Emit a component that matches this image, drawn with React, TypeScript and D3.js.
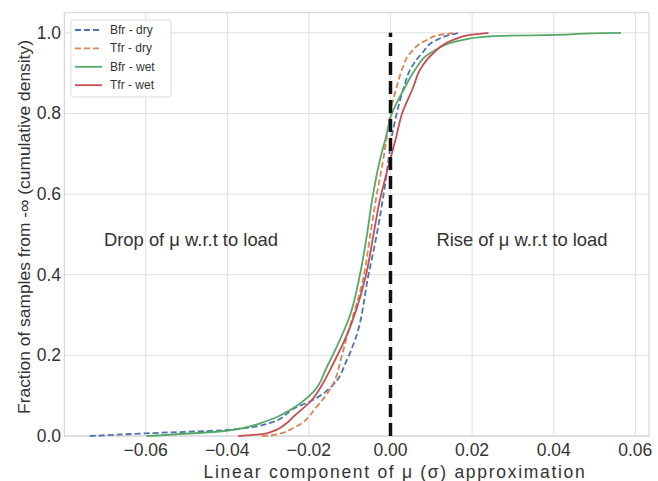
import React from "react";
import * as d3 from "d3";

const xTicks = [-0.06, -0.04, -0.02, 0.0, 0.02, 0.04, 0.06];
const yTicks = [0.0, 0.2, 0.4, 0.6, 0.8, 1.0];

const bfrDry: [number, number][] = [
  [-0.0737, 0], [-0.0598, 0.0067], [-0.0402, 0.0149], [-0.0295, 0.0323], [-0.0234, 0.0695],
  [-0.019, 0.0893], [-0.0141, 0.1265], [-0.0107, 0.1885], [-0.0087, 0.2382], [-0.0054, 0.3994],
  [-0.0033, 0.5036], [-0.0019, 0.5855], [-0.0005, 0.6847], [0.0003, 0.7418], [0.0015, 0.7988],
  [0.0033, 0.8658], [0.0048, 0.908], [0.0077, 0.9494], [0.0113, 0.9824], [0.0146, 0.9948], [0.017, 1.0],
];
const tfrDry: [number, number][] = [
  [-0.0315, 0], [-0.0287, 0.0025], [-0.0238, 0.0198], [-0.0181, 0.0727], [-0.014, 0.1307],
  [-0.012, 0.1967], [-0.0109, 0.2382], [-0.0065, 0.3994], [-0.0049, 0.5036], [-0.0036, 0.5855],
  [-0.0018, 0.6847], [-0.0009, 0.7418], [-0.0001, 0.7988], [0.0015, 0.8658], [0.0028, 0.908],
  [0.0048, 0.9494], [0.0089, 0.9824], [0.0121, 0.9948], [0.0162, 1.0],
];
const bfrWet: [number, number][] = [
  [-0.0598, 0], [-0.0402, 0.013], [-0.0303, 0.0372], [-0.0238, 0.0695], [-0.0189, 0.1092],
  [-0.0156, 0.1712], [-0.0124, 0.2382], [-0.0099, 0.3002], [-0.0075, 0.3994], [-0.0057, 0.5036],
  [-0.0045, 0.5855], [-0.0026, 0.6847], [-0.0011, 0.7418], [0.0003, 0.7988], [0.0036, 0.8658],
  [0.006, 0.908], [0.0097, 0.9494], [0.0178, 0.9824], [0.0236, 0.9906], [0.0293, 0.9931],
  [0.0407, 0.9948], [0.0489, 0.9985], [0.0565, 1.0],
];
const tfrWet: [number, number][] = [
  [-0.0373, 0], [-0.0303, 0.0067], [-0.0254, 0.0323], [-0.0238, 0.0479], [-0.0195, 0.0868],
  [-0.0165, 0.1315], [-0.014, 0.1804], [-0.0112, 0.2382], [-0.006, 0.3994], [-0.0041, 0.5036],
  [-0.0026, 0.5855], [-0.0001, 0.6847], [0.0014, 0.7418], [0.0028, 0.7988], [0.0056, 0.8658],
  [0.0072, 0.908], [0.0105, 0.9494], [0.0154, 0.9824], [0.0195, 0.9948], [0.024, 1.0],
];

const seriesNames = ["Bfr - dry", "Tfr - dry", "Bfr - wet", "Tfr - wet"];
const seriesData = [bfrDry, tfrDry, bfrWet, tfrWet];
const seriesColors = ["#4C72B0", "#DD8452", "#55A868", "#C44E52"];
const seriesDashed = [true, true, false, false];

const W = 658, H = 481;
const L = 64.3, R = 649, T = 12.7, B = 436;
const FONT = "'Liberation Sans', Arial, sans-serif";

const fmtX = (t: number) => (t < 0 ? "\u2212" : "") + Math.abs(t).toFixed(2);

export default function App() {
  const x = d3.scaleLinear().domain([-0.07995, 0.06336]).range([L, R]);
  const y = d3.scaleLinear().domain([0, 1.05]).range([B, T]);
  const line = d3.line<[number, number]>().x(d => x(d[0])).y(d => y(d[1])).curve(d3.curveMonotoneY);

  return (
    <svg width={W} height={H} style={{ position: "absolute", left: 0, top: 0, background: "#fff" }} fontFamily={FONT}>
      <rect x={0} y={0} width={W} height={H} fill="#fff" />
      {xTicks.map(t => (
        <line key={"gx" + t} x1={x(t)} x2={x(t)} y1={T} y2={B} stroke="#dedede" strokeWidth={1} />
      ))}
      {yTicks.map(t => (
        <line key={"gy" + t} x1={L} x2={R} y1={y(t)} y2={y(t)} stroke="#dedede" strokeWidth={1} />
      ))}
      <rect x={L} y={T} width={R - L} height={B - T} fill="none" stroke="#d0d0d0" strokeWidth={1} />
      {seriesData.map((d, i) => (
        <path key={seriesNames[i]} d={line(d) || ""} fill="none" stroke={seriesColors[i]} strokeWidth={1.8}
          strokeDasharray={seriesDashed[i] ? "6,3" : undefined} />
      ))}
      <line x1={x(0)} x2={x(0)} y1={y(0)} y2={y(1)} stroke="#111" strokeWidth={3.5} strokeDasharray="13,6" />
      {xTicks.map(t => (
        <text key={"tx" + t} x={x(t)} y={456} textAnchor="middle" fontSize={17.5} fill="#333">
          {fmtX(t)}
        </text>
      ))}
      {yTicks.map(t => (
        <text key={"ty" + t} x={61} y={y(t) + 6} textAnchor="end" fontSize={17.5} fill="#333">
          {t.toFixed(1)}
        </text>
      ))}
      <text x={395} y={478} textAnchor="middle" fontSize={17.5} letterSpacing={1.7} fill="#333">
        Linear component of μ (σ) approximation
      </text>
      <text transform={`translate(30,227) rotate(-90)`} textAnchor="middle" fontSize={17.4} fill="#333">
        Fraction of samples from -∞ (cumulative density)
      </text>
      <text x={191} y={246} textAnchor="middle" fontSize={18.4} fill="#333">Drop of μ w.r.t to load</text>
      <text x={522} y={246} textAnchor="middle" fontSize={18.4} fill="#333">Rise of μ w.r.t to load</text>
      <g>
        <rect x={71} y={20} width={100} height={77} rx={2} fill="#fff" fillOpacity={0.85} stroke="#dcdcdc" strokeWidth={1} />
        {seriesNames.map((n, i) => {
          const yy = 30 + i * 18.4;
          return (
            <g key={"lg" + n}>
              <line x1={75} x2={102} y1={yy} y2={yy} stroke={seriesColors[i]} strokeWidth={1.8}
                strokeDasharray={seriesDashed[i] ? "6,3" : undefined} />
              <text x={110} y={yy + 4} fontSize={12} fill="#333">{n}</text>
            </g>
          );
        })}
      </g>
    </svg>
  );
}
